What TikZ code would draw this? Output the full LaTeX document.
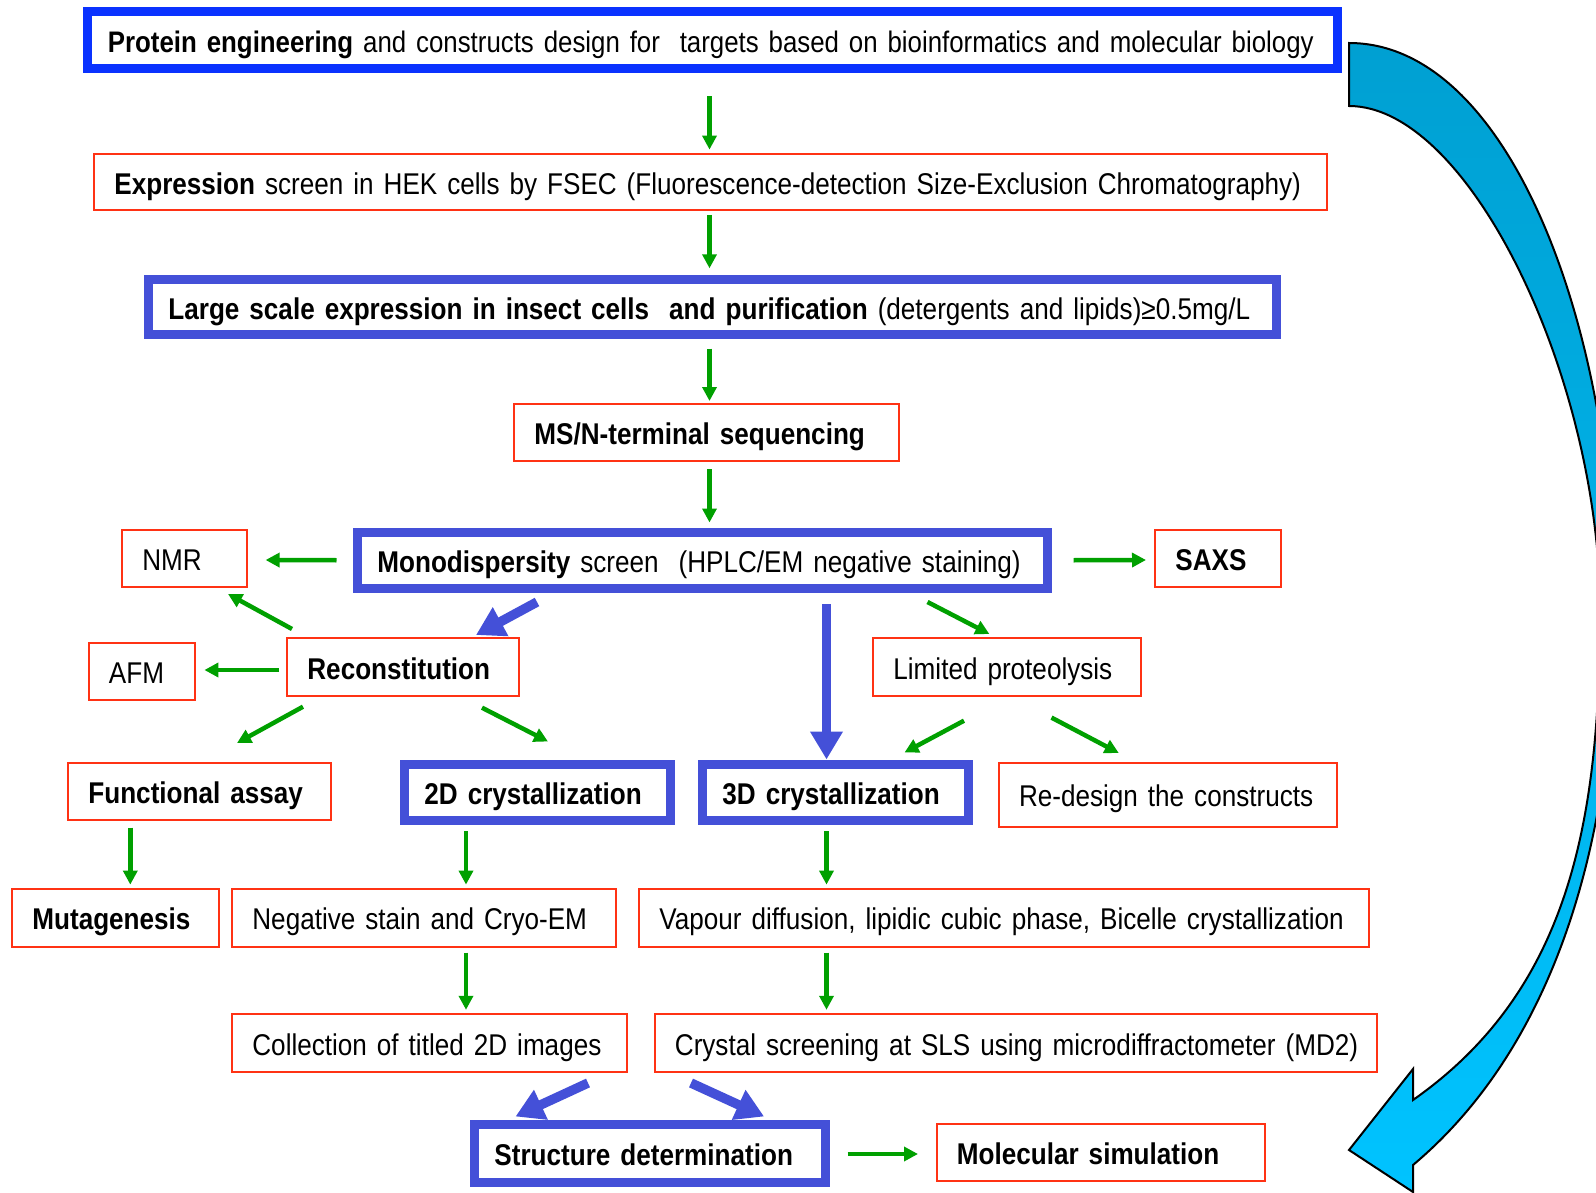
\documentclass[tikz,border=0pt]{standalone}
\usepackage{fontspec}
\setmainfont{Liberation Sans}[FakeStretch=0.87]
\usetikzlibrary{arrows.meta,calc}
\definecolor{boxred}{RGB}{255,50,20}
\definecolor{boxblue}{RGB}{68,80,216}
\definecolor{protblue}{RGB}{10,50,255}
\definecolor{agreen}{RGB}{0,160,0}
\definecolor{cyantop}{RGB}{0,160,210}
\definecolor{cyanbot}{RGB}{0,195,255}
\newcommand\bx[7]{%
 \pgfmathsetmacro\bxW{#4-#2}\pgfmathsetmacro\bxH{#5-#3}\pgfmathsetmacro\bxT{#4-#2-40.8}%
 \node[#6, minimum width=\bxW pt, minimum height=\bxH pt, text width=\bxT pt,
   inner xsep=20.4pt, inner ysep=0pt, align=left] (#1) at ({(#2+#4)/2},{(#3+#5)/2})
   {\mbox{\rule[-11pt]{0pt}{46pt}#7}};}
\begin{document}
\begin{tikzpicture}[x=1pt,y=-1pt,
  txt/.style={font=\fontsize{30}{36}\selectfont},
  redbox/.style={txt, draw=boxred, line width=2pt, fill=white},
  bluebox/.style={txt, draw=boxblue, line width=9pt, fill=white},
  protbox/.style={font=\fontsize{29.7}{36}\selectfont, draw=protblue, line width=9pt, fill=white},
  garrow/.style={draw=agreen, line width=4.5pt, -{Triangle[width=14pt,length=14pt]}},
  barrow/.style={draw=boxblue, line width=9.5pt, -{Triangle[width=31pt,length=28pt]}}]
\useasboundingbox (0,0) rectangle (1596,1193);
\fill[white] (0,0) rectangle (1596,1193);
% big curved arrow
\begin{scope}
\clip (0,0) rectangle (1596,1193);
\draw[black, line width=2pt, line join=miter, top color=cyantop, bottom color=cyanbot]
  (1349,43) .. controls (1510,43) and (1615,330) .. (1615,610)
  .. controls (1615,850) and (1550,1050) .. (1413,1165)
  -- (1413,1192) -- (1349,1150) -- (1413,1069) -- (1413,1100)
  .. controls (1570,990) and (1600,820) .. (1600,610)
  .. controls (1600,380) and (1470,106) .. (1349,106) -- cycle;
\end{scope}
% boxes
\bx{P}{87.5}{12}{1337.5}{69}{protbox}{\textbf{Protein engineering} and constructs design for\ \ targets based on bioinformatics and molecular biology}
\bx{E}{94}{154}{1327}{210.5}{redbox}{\textbf{Expression} screen in HEK cells by FSEC (Fluorescence-detection Size-Exclusion Chromatography)}
\bx{L}{148}{279.5}{1276}{334.5}{bluebox}{\textbf{Large scale expression in insect cells\ \ and purification} (detergents and lipids)≥0.5mg/L}
\bx{MS}{514}{404}{899}{461}{redbox}{\textbf{MS/N-terminal sequencing}}
\bx{M}{357}{532.5}{1047}{588}{bluebox}{\textbf{Monodispersity} screen\ \ (HPLC/EM negative staining)}
\bx{NMR}{122}{530}{247}{587}{redbox}{NMR}
\bx{SAXS}{1155}{530}{1280.5}{587}{redbox}{\textbf{SAXS}}
\bx{AFM}{88.5}{643}{195.4}{700}{redbox}{AFM}
\bx{R}{287}{638}{519}{696}{redbox}{\textbf{Reconstitution}}
\bx{LP}{873}{638}{1141}{696}{redbox}{Limited proteolysis}
\bx{FA}{68}{763}{331}{820}{redbox}{\textbf{Functional assay}}
\bx{C2}{404}{764}{670}{820.5}{bluebox}{\textbf{2D crystallization}}
\bx{C3}{702}{764}{968}{820.5}{bluebox}{\textbf{3D crystallization}}
\bx{RD}{998.6}{763}{1336.5}{826.5}{redbox}{Re-design the constructs}
\bx{MU}{12}{888.6}{219}{946.7}{redbox}{\textbf{Mutagenesis}}
\bx{NS}{232}{888.6}{616}{946.7}{redbox}{Negative stain and Cryo-EM}
\bx{VP}{639}{888.6}{1369}{946.7}{redbox}{Vapour diffusion, lipidic cubic phase, Bicelle crystallization}
\bx{CO}{232}{1014}{627}{1072}{redbox}{Collection of titled 2D images}
\bx{CS}{654.5}{1014}{1377}{1072}{redbox}{Crystal screening at SLS using microdiffractometer (MD2)}
\bx{SD}{474}{1124}{825.6}{1182}{bluebox}{\textbf{Structure determination}}
\bx{MSIM}{936.5}{1124}{1265}{1181}{redbox}{\textbf{Molecular simulation}}
% green arrows
\draw[garrow] ($(P.south)+(-3,22.6)$) -- ($(E.north)+(-1,-3.4)$);
\draw[garrow] ($(E.south)+(-1,3.3)$) -- ($(L.north)+(-2.5,-6.7)$);
\draw[garrow] ($(L.south)+(-2.5,9.5)$) -- ($(MS.north)+(3,-2)$);
\draw[garrow] ($(MS.south)+(3,7)$) -- ($(M.north)+(7.5,-5.5)$);
\draw[garrow] ($(M.west)+(-16,0)$) -- ($(NMR.east)+(17.6,1.5)$);
\draw[garrow] ($(M.east)+(22,0)$) -- ($(SAXS.west)+(-8,1.5)$);
\draw[garrow] ($(R.north west)+(6,-8)$) -- ($(NMR.south east)+(-20,6)$);
\draw[garrow] ($(R.west)+(-7,3)$) -- ($(AFM.east)+(8,-1.5)$);
\draw[garrow] ($(R.south west)+(17,9.7)$) -- ($(FA.north)+(37.5,-19)$);
\draw[garrow] ($(R.south east)+(-38,10.7)$) -- ($(C2.north)+(11,-18)$);
\draw[garrow] ($(M.south east)+(-124,9.5)$) -- ($(LP.north)+(-17.6,-3)$);
\draw[garrow] ($(LP.south west)+(92,23.7)$) -- ($(C3.north east)+(-68,-7)$);
\draw[garrow] ($(LP.south)+(44.5,20.6)$) -- ($(RD.north)+(-48.8,-9)$);
\draw[garrow] ($(FA.south)+(-69.2,6.5)$) -- ($(MU.north)+(14.8,-3)$);
\draw[garrow] ($(C2.south)+(-71,6)$) -- ($(NS.north)+(42,-3)$);
\draw[garrow] ($(C3.south)+(-8.5,6)$) -- ($(VP.north)+(-177.5,-3)$);
\draw[garrow] ($(NS.south)+(42,5)$) -- ($(CO.north)+(36.5,-3.2)$);
\draw[garrow] ($(VP.south)+(-177.5,5)$) -- ($(CS.north)+(-189.25,-3.2)$);
\draw[garrow] ($(SD.east)+(17.4,1)$) -- ($(MSIM.west)+(-17.5,1.5)$);
% blue arrows
\draw[barrow] ($(M.south west)+(184.5,9.5)$) -- ($(R.north east)+(-44,-2)$);
\draw[barrow] ($(M.south)+(124.5,11.5)$) -- ($(C3.north)+(-8.5,0)$);
\draw[barrow] ($(CO.south east)+(-40,10)$) -- ($(SD.north west)+(46,-3)$);
\draw[barrow] ($(CS.south west)+(37.5,10)$) -- ($(SD.north east)+(-66,-3)$);
\end{tikzpicture}
\end{document}
